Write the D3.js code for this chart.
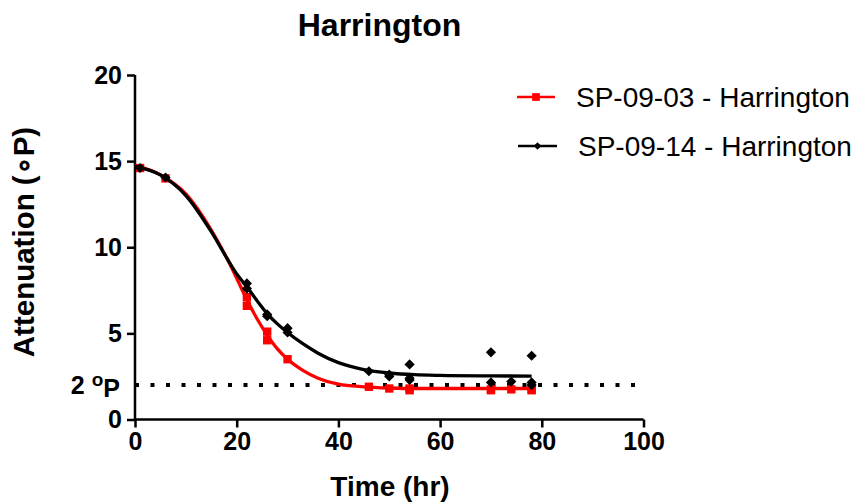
<!DOCTYPE html>
<html>
<head>
<meta charset="utf-8">
<script src="https://cdn.jsdelivr.net/npm/d3@7"></script>
<style>
  html, body { margin: 0; padding: 0; background: #fff; }
  svg { display: block; font-family: "Liberation Sans", Arial, sans-serif; }
</style>
</head>
<body>
<svg id="chart" width="855" height="504"></svg>
<script>
// ---------- data ----------
const title = "Harrington";
const xLabel = "Time (hr)";
const yLabel = "Attenuation (\u2218P)";
const xTicks = [0, 20, 40, 60, 80, 100];
const yTicks = [0, 5, 10, 15, 20];
const thresholdValue = 2;

const series1Name = "SP-09-03 - Harrington";
const series1Time = [1, 6, 22, 22, 26, 26, 30, 46, 50, 54, 54, 70, 70, 74, 78, 78];
const series1Value = [14.6, 14.0, 7.1, 6.6, 5.1, 4.6, 3.5, 1.9, 1.8, 1.8, 1.7, 1.75, 1.7, 1.75, 1.75, 1.7];

const series2Name = "SP-09-14 - Harrington";
const series2Time = [1, 6, 22, 22, 26, 26, 30, 30, 46, 50, 50, 54, 54, 54, 70, 70, 74, 78, 78, 78];
const series2Value = [14.6, 14.05, 7.9, 7.6, 6.1, 6.0, 5.3, 5.05, 2.8, 2.6, 2.5, 3.2, 2.4, 2.3, 3.9, 2.15, 2.2, 3.7, 2.15, 2.0];

// fitted curves
const fitTime = [0, 5, 10, 15, 18, 20, 22, 24, 26, 28, 30, 33, 36, 40, 45, 50, 55, 60, 70, 78];
const series1Fit = [14.75, 14.2, 13.1, 11.0, 9.4, 8.2, 6.95, 5.85, 4.9, 4.1, 3.5, 2.85, 2.4, 2.05, 1.9, 1.83, 1.8, 1.8, 1.8, 1.8];
const series2Fit = [14.7, 14.2, 13.0, 10.9, 9.4, 8.45, 7.7, 6.9, 6.15, 5.55, 5.05, 4.4, 3.85, 3.3, 2.9, 2.7, 2.6, 2.56, 2.53, 2.52];

// ---------- drawing ----------
const svg = d3.select("#chart");
const x = d3.scaleLinear().domain([0, 100]).range([135, 643.5]);
const y = d3.scaleLinear().domain([0, 20]).range([419.5, 75]);

// threshold dotted line
svg.append("line")
  .attr("x1", x(0)).attr("x2", x(100))
  .attr("y1", y(thresholdValue)).attr("y2", y(thresholdValue))
  .attr("stroke", "#000").attr("stroke-width", 4)
  .attr("stroke-dasharray", "4,11.5");

// axes
const xAxis = svg.append("g").attr("transform", `translate(0,${y(0)})`)
  .call(d3.axisBottom(x).tickValues(xTicks).tickSize(8).tickPadding(5).tickFormat(d3.format("d")));
const yAxis = svg.append("g").attr("transform", `translate(${x(0)},0)`)
  .call(d3.axisLeft(y).tickValues(yTicks).tickSize(8).tickPadding(5).tickFormat(d3.format("d")));

[xAxis, yAxis].forEach(g => {
  g.select(".domain").attr("stroke", "#000").attr("stroke-width", 2.5)
    .attr("d", g === xAxis ? `M${x(0)},0H${x(100)}` : `M0,${y(0)}V${y(20)}`);
  g.selectAll(".tick line").attr("stroke", "#000").attr("stroke-width", 2.5);
  g.selectAll(".tick text").attr("fill", "#000")
    .style("font-family", "Liberation Sans, Arial, sans-serif")
    .style("font-size", "25px").style("font-weight", "bold");
});

// "2 °P" label
const tl = svg.append("text")
  .attr("x", x(0) - 15).attr("y", y(thresholdValue)).attr("dy", "0.36em")
  .attr("text-anchor", "end")
  .style("font-size", "25px").style("font-weight", "bold");
tl.append("tspan").text("2 ");
tl.append("tspan").text("o").attr("dy", "-0.42em").style("font-size", "19px");
tl.append("tspan").text("P").attr("dy", "0.42em");

// curves and points
const line = d3.line().x(d => x(d[0])).y(d => y(d[1])).curve(d3.curveMonotoneX);
function drawSeries(color, fitVals, ts, vs, diamond) {
  svg.append("path").datum(fitTime.map((t, i) => [t, fitVals[i]]))
    .attr("d", line).attr("fill", "none").attr("stroke", color).attr("stroke-width", 3.3);
  const sym = d3.symbol().type(d3.symbolSquare).size(diamond ? 52 : 70);
  svg.append("g").selectAll("path").data(ts.map((t, i) => [t, vs[i]])).join("path")
    .attr("d", sym)
    .attr("transform", d => `translate(${x(d[0])},${y(d[1])})${diamond ? " rotate(45)" : ""}`)
    .attr("fill", color);
}
drawSeries("#ff0000", series1Fit, series1Time, series1Value, false);
drawSeries("#000000", series2Fit, series2Time, series2Value, true);

// title
svg.append("text").attr("x", 379.5).attr("y", 36).attr("text-anchor", "middle")
  .style("font-size", "32px").style("font-weight", "bold").text(title);

// axis labels
svg.append("text").attr("x", 390).attr("y", 496).attr("text-anchor", "middle")
  .style("font-size", "28px").style("font-weight", "bold").text(xLabel);
svg.append("text").attr("transform", "translate(34,242) rotate(-90)").attr("text-anchor", "middle")
  .style("font-size", "29.5px").style("font-weight", "bold").text(yLabel);

// legend
const legend = [
  { name: series1Name, color: "#ff0000", diamond: false, x0: 517, x1: 555, y: 97, tx: 576 },
  { name: series2Name, color: "#000000", diamond: true, x0: 518, x1: 557, y: 146, tx: 578 }
];
legend.forEach(l => {
  svg.append("line").attr("x1", l.x0).attr("x2", l.x1).attr("y1", l.y).attr("y2", l.y)
    .attr("stroke", l.color).attr("stroke-width", 2.6);
  const cx = (l.x0 + l.x1) / 2;
  svg.append("path")
    .attr("d", d3.symbol().type(d3.symbolSquare).size(l.diamond ? 30 : 60))
    .attr("transform", `translate(${cx},${l.y})${l.diamond ? " rotate(45)" : ""}`)
    .attr("fill", l.color);
  svg.append("text").attr("x", l.tx).attr("y", l.y + 10)
    .style("font-size", "28px").text(l.name);
});
</script>
</body>
</html>
